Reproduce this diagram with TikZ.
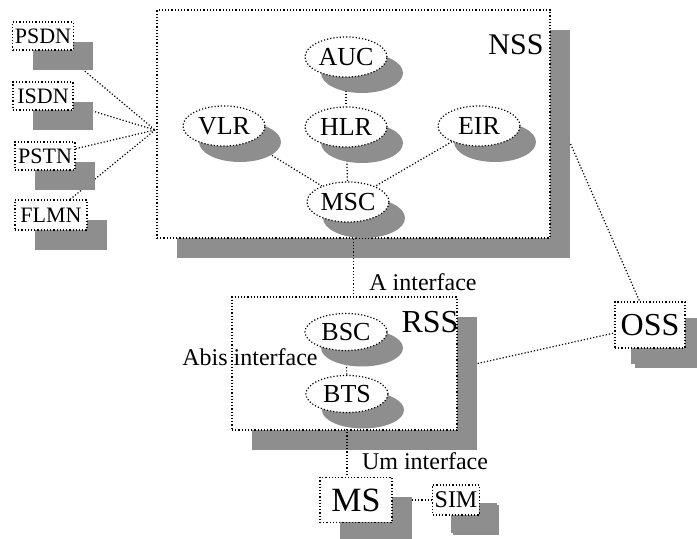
\documentclass[tikz,border=0pt]{standalone}
\usepackage{fontspec}
\setmainfont{Liberation Serif}
\usepackage{tikz}
\usetikzlibrary{shapes.geometric,shadows}
\definecolor{dither}{HTML}{8E8E8E}
\pgfdeclarelayer{back}
\pgfdeclarelayer{wires}
\pgfsetlayers{back,wires,main}
\tikzset{
  outline/.style={draw,densely dotted,line width=0.6pt},
  offset/.style={drop shadow={shadow xshift=#1,shadow yshift=-#1,fill=dither,opacity=1}},
  subsys/.style={rectangle,outline,fill=white,inner sep=0pt,offset=10pt},
  unit/.style={ellipse,outline,fill=white,inner sep=0pt,minimum width=41pt,minimum height=20pt,
    font=\fontsize{13}{13}\selectfont,offset=8pt},
  netbox/.style={rectangle,outline,fill=white,inner sep=1pt,offset=10pt},
  wire/.style={densely dotted,line width=0.6pt},
  tag/.style={font=\fontsize{12}{12}\selectfont,inner sep=0pt}
}
\newcommand{\pt}[1]{\fontsize{#1}{#1}\selectfont}

\begin{document}
\begin{tikzpicture}[x=0.5pt,y=-0.5pt]
  \useasboundingbox (0,0) rectangle (697,539);
  % the two subsystem frames sit underneath everything
  \begin{pgfonlayer}{back}
    \node[subsys,minimum width=196.5pt,minimum height=114pt] (nss) at (353.5,124) {};
    \node[subsys,minimum width=112.5pt,minimum height=66.5pt] (rss) at (344.5,363.5) {};
  \end{pgfonlayer}
  \node[font=\pt{15}] (nsslbl) at (516,45) {NSS};
  \node[font=\pt{16}] (rsslbl) at (430,322) {RSS};

  % switching part
  \node[unit] (auc) at (346,57) {AUC};
  \node[unit] (hlr) at (346,127) {HLR};
  \node[unit] (vlr) at (224,126) {VLR};
  \node[unit] (eir) at (479,126) {EIR};
  \node[unit] (msc) at (348,202) {MSC};

  % outside networks
  \node[netbox,minimum width=30pt,minimum height=14pt,font=\pt{11}] (psdn) at (43,36) {PSDN};
  \node[netbox,minimum width=30pt,minimum height=14pt,font=\pt{11}] (isdn) at (43,96) {ISDN};
  \node[netbox,minimum width=30pt,minimum height=14pt,font=\pt{11}] (pstn) at (45,156) {PSTN};
  \node[netbox,minimum width=36pt,minimum height=15pt,font=\pt{11}] (flmn) at (51,215) {FLMN};
  \coordinate (hub) at (155,130);

  % radio part
  \node[unit,minimum height=18.5pt] (bsc) at (346,332) {BSC};
  \node[unit,minimum height=18.5pt] (bts) at (347,394) {BTS};
  \node[netbox,minimum width=35pt,minimum height=23pt,font=\pt{16},offset=8pt] (oss) at (650,325) {OSS};
  \node[netbox,minimum width=36pt,minimum height=22.5pt,font=\pt{17}] (ms) at (356,500) {MS};
  \node[netbox,minimum width=21pt,minimum height=15pt,font=\pt{12},offset=9pt] (sim) at (456,500) {SIM};

  \node[tag] (ainf) at (423,282) {A interface};
  \node[tag] (abisinf) at (250,357) {Abis interface};
  \node[tag] (uminf) at (425,461) {Um interface};

  \begin{pgfonlayer}{wires}
    \foreach \n in {psdn,isdn,pstn,flmn}
      \draw[wire] (\n) -- (hub);
    \draw[wire] (auc) -- (hlr);
    \draw[wire] (hlr) -- (msc);
    \draw[wire] (vlr) -- (msc);
    \draw[wire] (eir) -- (msc);
    \draw[wire] (nss.south) -- (nss.south |- rss.north);
    \draw[wire] ([shift={(10pt,-10pt)}]nss.east) -- (oss);
    \draw[wire] ([xshift=10pt]rss.east) -- (oss);
    \draw[wire] (bsc) -- (bts);
    \draw[wire] (bts) -- (bts |- ms.north);
    \draw[wire] (ms) -- (sim);
  \end{pgfonlayer}
\end{tikzpicture}
\end{document}
